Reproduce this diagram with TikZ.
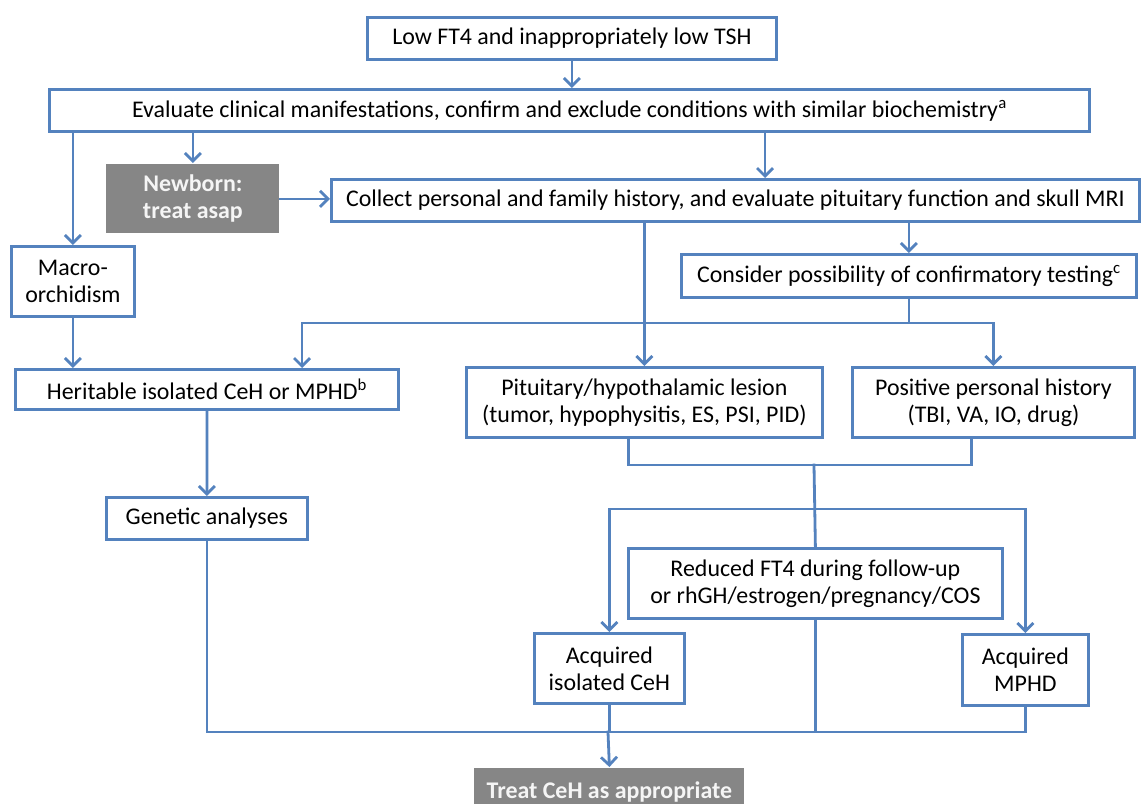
\documentclass[tikz,border=0pt]{standalone}
\usepackage{fontspec}
\setmainfont{Carlito}
\usetikzlibrary{arrows.meta,calc}
\definecolor{ln}{RGB}{84,130,190}
\definecolor{gfill}{RGB}{134,134,134}
\begin{document}
\begin{tikzpicture}[x=1bp,y=-1bp,
  box/.style={draw=ln, line width=2.8bp, fill=white, inner sep=1bp, align=center,
    font=\fontsize{24}{27}\selectfont, text=black, anchor=north west},
  gbox/.style={box, draw=none, fill=gfill, text=white!92!gray,
    font=\fontsize{24}{27}\selectfont\bfseries},
  con/.style={draw=ln, line width=2.8bp, line cap=rect},
  arr/.style={con, -{Straight Barb[length=8bp,width=16bp,line width=2.8bp]}}]
\useasboundingbox (0,0) rectangle (1141,804);
\clip (0,0) rectangle (1141,804);
\fill[white] (0,0) rectangle (1141,804);

\node[box,minimum width=409bp,minimum height=42bp] (top) at (366,16) {Low FT4 and inappropriately low TSH};
\node[box,minimum width=1040bp,minimum height=42bp] (eval) at (48,88) {Evaluate clinical manifestations, confirm and exclude conditions with similar biochemistry\textsuperscript{a}};
\node[gbox,minimum width=173bp,minimum height=69bp] (nb) at (105,163) {Newborn:\\treat asap};
\node[box,minimum width=808bp,minimum height=42bp] (col) at (330,178) {Collect personal and family history, and evaluate pituitary function and skull MRI};
\node[box,minimum width=123bp,minimum height=70bp] (mac) at (10,245) {Macro-\\orchidism};
\node[box,minimum width=455bp,minimum height=43bp] (cons) at (680,253) {Consider possibility of confirmatory testing\textsuperscript{c}};
\node[box,minimum width=383bp,minimum height=40bp] (her) at (14,368) {Heritable isolated CeH or MPHD\textsuperscript{b}};
\node[box,minimum width=356bp,minimum height=70bp] (pit) at (465,366) {Pituitary/hypothalamic lesion\\(tumor, hypophysitis, ES, PSI, PID)};
\node[box,minimum width=282bp,minimum height=70bp] (pos) at (851,366) {Positive personal history\\(TBI, VA, IO, drug)};
\node[box,minimum width=201bp,minimum height=42bp] (gen) at (105,496) {Genetic analyses};
\node[box,minimum width=374bp,minimum height=70bp] (red) at (627,547) {Reduced FT4 during follow-up\\or rhGH/estrogen/pregnancy/COS};
\node[box,minimum width=150bp,minimum height=70bp] (acqi) at (533,632) {Acquired\\isolated CeH};
\node[box,minimum width=126bp,minimum height=71bp] (mphd) at (961,633) {Acquired\\MPHD};
\node[gbox,minimum width=270bp,minimum height=48bp] (treat) at (473,767) {Treat CeH as appropriate};

\coordinate (c1) at (765,0);
\coordinate (h1) at (302,323);
\coordinate (j) at (814,465);
\coordinate (b) at (814,509);
\coordinate (k) at (608,732);

\draw[arr] (top.south) -- (top.south |- eval.north);
\draw[arr] (eval.south -| mac.north) -- (mac.north);
\draw[arr] (eval.south -| nb.north) -- (nb.north);
\draw[arr] (eval.south -| c1) -- (col.north -| c1);
\draw[arr] (nb.east) -- (nb.east -| col.west);
\draw[arr] (col.south -| pit.north) -- (pit.north);
\draw[arr] (col.south -| cons.north) -- (cons.north);
\draw[arr] (mac.south) -- (mac.south |- her.north);
\draw[con] (cons.south) -- (cons.south |- h1);
\draw[arr] (h1 -| pos.north) -- (h1) -- (h1 |- her.north);
\draw[arr] (h1 -| pos.north) -- (pos.north);
\draw[con] ($(pit.south)+(-16,0)$) |- (j) -| ($(pos.south)+(-22,0)$);
\draw[con] (j) -- (red.north);
\draw[arr] (b) -| (acqi.north);
\draw[arr] (b) -| (mphd.north);
\draw[arr] (her.south) -- (gen.north);
\draw[con] (gen.south) |- (k -| mphd.south) -- (mphd.south);
\draw[con] (acqi.south) -- (acqi.south |- k);
\draw[con] (red.south) -- (red.south |- k);
\draw[arr] (k) -- (treat.north);
\end{tikzpicture}
\end{document}
